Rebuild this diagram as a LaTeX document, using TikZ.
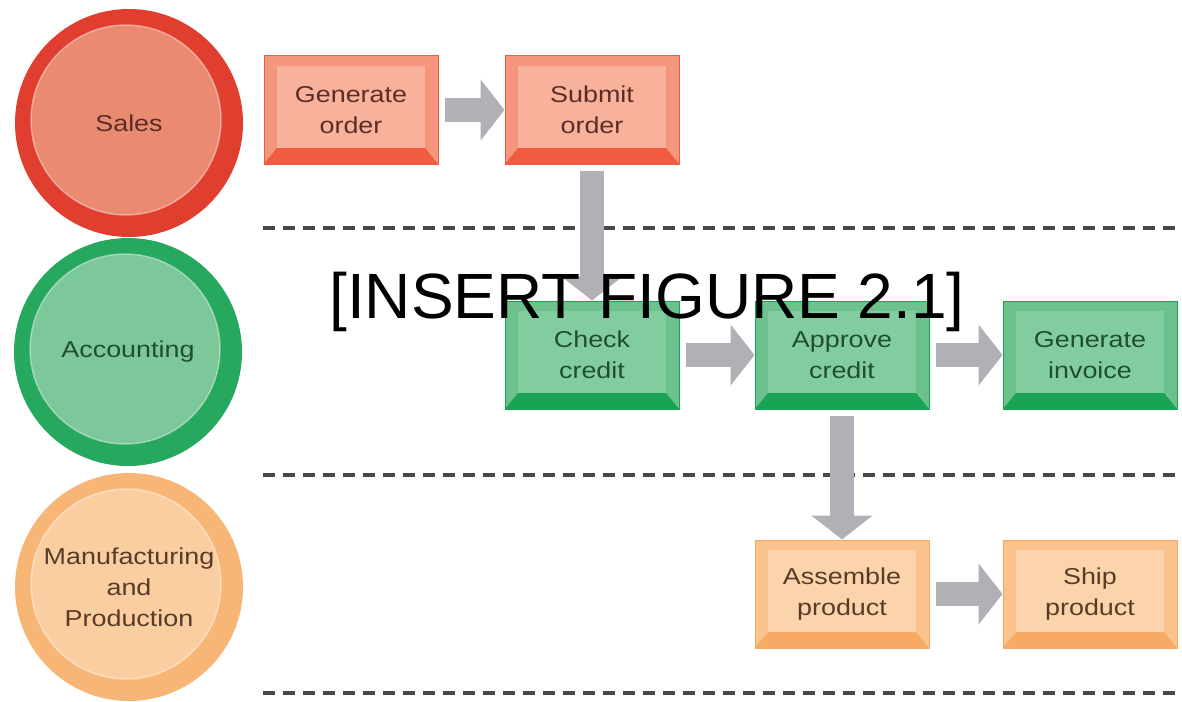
\documentclass[tikz,border=0pt]{standalone}
\usepackage{fontspec}
\setmainfont{Liberation Sans}
\newfontfamily\lblfont[FakeStretch=1.17]{Liberation Sans}
\usetikzlibrary{arrows.meta}
\definecolor{salesring}{RGB}{224,62,46}
\definecolor{salesdisc}{RGB}{234,138,112}
\definecolor{salesbox}{RGB}{244,150,125}
\definecolor{salesinner}{RGB}{248,178,155}
\definecolor{salesedge}{RGB}{240,92,66}
\definecolor{salestext}{RGB}{92,45,38}
\definecolor{acctring}{RGB}{38,168,94}
\definecolor{acctdisc}{RGB}{125,200,155}
\definecolor{acctbox}{RGB}{108,193,140}
\definecolor{acctinner}{RGB}{130,205,160}
\definecolor{acctedge}{RGB}{24,164,84}
\definecolor{accttext}{RGB}{32,78,48}
\definecolor{mfgring}{RGB}{247,182,118}
\definecolor{mfgdisc}{RGB}{251,206,162}
\definecolor{mfgbox}{RGB}{250,195,142}
\definecolor{mfginner}{RGB}{252,212,172}
\definecolor{mfgedge}{RGB}{246,170,100}
\definecolor{mfgtext}{RGB}{88,60,40}
\definecolor{arrowgray}{RGB}{176,176,182}
\definecolor{sepgray}{RGB}{72,72,72}
\tikzset{
  >={Triangle[length=24pt,width=60pt]},
  lane/.style={circle,minimum size=228pt,inner sep=0pt,fill=#1ring,text=#1text,
    align=center,font=\lblfont\fontsize{23}{31}\selectfont,
    path picture={
      \fill[#1disc] ([xshift=-3pt,yshift=3pt]path picture bounding box.center) circle (95pt);
      \draw[white,opacity=0.4,line width=1.5pt] ([xshift=-3pt,yshift=3pt]path picture bounding box.center) circle (95pt);}},
  task/.style={rectangle,minimum width=174pt,minimum height=108pt,inner sep=0pt,
    fill=#1box,draw=#1edge,line width=1pt,text=#1text,align=center,
    font=\lblfont\fontsize{23}{31}\selectfont,
    path picture={
      \fill[#1edge] (path picture bounding box.south west) -- (path picture bounding box.south east)
        -- ([xshift=-13pt,yshift=16pt]path picture bounding box.south east)
        -- ([xshift=13pt,yshift=16pt]path picture bounding box.south west) -- cycle;
      \fill[#1inner] ([xshift=13pt,yshift=16pt]path picture bounding box.south west)
        rectangle ([xshift=-13pt,yshift=-10pt]path picture bounding box.north east);}},
  flow/.style={draw=arrowgray,line width=24pt,->,shorten <=6pt},
  sep/.style={draw=sepgray,line width=3.5pt,dash pattern=on 12pt off 8pt},
}
\begin{document}
\begin{tikzpicture}[x=1pt,y=-1pt]
\useasboundingbox (0,0) rectangle (1182,701);
% lanes
\node[lane=sales] (sales) at (129,123) {Sales};
\node[lane=acct] (acct) at (128,352) {Accounting};
\node[lane=mfg] (mfg) at (129,587) {Manufacturing\\and\\Production};
% separators
\draw[sep] (263,228) -- (1182,228);
\draw[sep] (263,475) -- (1182,475);
\draw[sep] (263,693) -- (1182,693);
% tasks
\node[task=sales] (go) at (351,110) {Generate\\order};
\node[task=sales] (so) at (592,110) {Submit\\order};
\node[task=acct] (cc) at (592,355) {Check\\credit};
\node[task=acct] (ac) at (842,355) {Approve\\credit};
\node[task=acct] (gi) at (1090,355) {Generate\\invoice};
\node[task=mfg] (ap) at (842,594) {Assemble\\product};
\node[task=mfg] (sp) at (1090,594) {Ship\\product};
% flow
\draw[flow] (go) -- (so);
\draw[flow] (so.south) -- (cc.north);
\draw[flow] (cc) -- (ac);
\draw[flow] (ac) -- (gi);
\draw[flow] (ac.south) -- (ap.north);
\draw[flow] (ap) -- (sp);
% placeholder
\node[font=\fontsize{64}{70}\selectfont,anchor=base,inner sep=0pt] (ph) at (647,318) {[INSERT FIGURE 2.1]};
\end{tikzpicture}
\end{document}
